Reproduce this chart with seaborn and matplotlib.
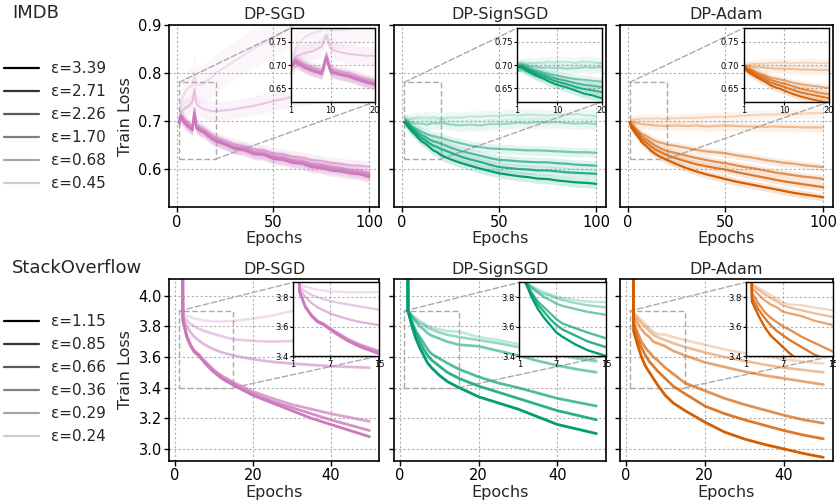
import numpy as np
import matplotlib
matplotlib.use("Agg")
import matplotlib.pyplot as plt
import seaborn as sns
from matplotlib.lines import Line2D
from matplotlib.patches import Rectangle, ConnectionPatch

# ---------------- data ----------------
optimizers = ['DP-SGD', 'DP-SignSGD', 'DP-Adam']

imdb_eps = ['3.39', '2.71', '2.26', '1.70', '0.68', '0.45']
so_eps = ['1.15', '0.85', '0.66', '0.36', '0.29', '0.24']

imdb_epochs = [1, 2, 3, 4, 5, 6, 7, 8, 9, 10, 12, 14, 16, 18, 20, 25, 30, 35, 40, 45,
               50, 55, 60, 65, 70, 75, 80, 85, 90, 95, 100]
so_epochs = [1, 2, 3, 4, 5, 6, 7, 8, 10, 12, 15, 20, 25, 30, 35, 40, 45, 50]

# IMDB train loss, one row per epsilon (3.39 ... 0.45)
imdb_sgd = [
    [0.695, 0.706, 0.700, 0.694, 0.690, 0.686, 0.684, 0.680, 0.714, 0.684, 0.679, 0.675, 0.668, 0.662, 0.657, 0.650,
     0.641, 0.638, 0.630, 0.629, 0.620, 0.618, 0.612, 0.610, 0.603, 0.601, 0.596, 0.594, 0.590, 0.588, 0.582],
    [0.697, 0.707, 0.702, 0.696, 0.692, 0.688, 0.685, 0.682, 0.716, 0.686, 0.680, 0.676, 0.670, 0.664, 0.659, 0.651,
     0.643, 0.640, 0.632, 0.630, 0.623, 0.620, 0.615, 0.612, 0.606, 0.604, 0.600, 0.597, 0.593, 0.591, 0.586],
    [0.698, 0.709, 0.704, 0.698, 0.694, 0.690, 0.687, 0.684, 0.719, 0.688, 0.682, 0.678, 0.672, 0.666, 0.661, 0.653,
     0.645, 0.642, 0.635, 0.633, 0.626, 0.624, 0.618, 0.616, 0.610, 0.608, 0.604, 0.601, 0.597, 0.595, 0.590],
    [0.700, 0.712, 0.708, 0.702, 0.698, 0.694, 0.691, 0.688, 0.726, 0.692, 0.686, 0.682, 0.676, 0.670, 0.665, 0.657,
     0.650, 0.646, 0.640, 0.638, 0.632, 0.630, 0.625, 0.623, 0.618, 0.616, 0.612, 0.610, 0.607, 0.606, 0.604],
    [0.700, 0.718, 0.722, 0.726, 0.728, 0.730, 0.735, 0.740, 0.765, 0.735, 0.728, 0.724, 0.722, 0.720, 0.720, 0.722,
     0.724, 0.728, 0.731, 0.736, 0.741, 0.745, 0.750, 0.752, 0.755, 0.757, 0.760, 0.762, 0.764, 0.765, 0.767],
    [0.700, 0.735, 0.750, 0.760, 0.765, 0.770, 0.772, 0.775, 0.800, 0.775, 0.775, 0.778, 0.785, 0.790, 0.800, 0.812,
     0.825, 0.838, 0.852, 0.862, 0.873, 0.886, 0.898, 0.910, 0.920, 0.930, 0.940, 0.948, 0.955, 0.960, 0.965],
]
imdb_signsgd = [
    [0.697, 0.694, 0.688, 0.683, 0.678, 0.674, 0.670, 0.665, 0.661, 0.657, 0.652, 0.645, 0.638, 0.634, 0.628, 0.619,
     0.612, 0.606, 0.600, 0.595, 0.590, 0.587, 0.584, 0.582, 0.579, 0.578, 0.575, 0.573, 0.571, 0.570, 0.568],
    [0.697, 0.696, 0.691, 0.687, 0.682, 0.678, 0.675, 0.671, 0.667, 0.664, 0.659, 0.653, 0.648, 0.645, 0.641, 0.633,
     0.625, 0.619, 0.614, 0.608, 0.603, 0.601, 0.599, 0.598, 0.596, 0.596, 0.594, 0.592, 0.591, 0.590, 0.589],
    [0.697, 0.697, 0.693, 0.689, 0.685, 0.682, 0.679, 0.676, 0.673, 0.670, 0.666, 0.661, 0.657, 0.655, 0.652, 0.644,
     0.637, 0.632, 0.627, 0.622, 0.618, 0.617, 0.615, 0.614, 0.613, 0.613, 0.611, 0.610, 0.608, 0.607, 0.606],
    [0.697, 0.699, 0.695, 0.692, 0.688, 0.686, 0.683, 0.681, 0.679, 0.677, 0.673, 0.670, 0.668, 0.666, 0.664, 0.658,
     0.653, 0.648, 0.645, 0.642, 0.641, 0.640, 0.639, 0.638, 0.638, 0.637, 0.636, 0.635, 0.634, 0.634, 0.633],
    [0.697, 0.700, 0.699, 0.697, 0.697, 0.695, 0.694, 0.695, 0.693, 0.694, 0.692, 0.693, 0.695, 0.694, 0.696, 0.692,
     0.690, 0.692, 0.690, 0.693, 0.693, 0.694, 0.696, 0.695, 0.697, 0.696, 0.697, 0.695, 0.694, 0.695, 0.693],
    [0.697, 0.704, 0.702, 0.705, 0.703, 0.706, 0.705, 0.708, 0.706, 0.706, 0.707, 0.705, 0.708, 0.706, 0.704, 0.707,
     0.706, 0.709, 0.708, 0.710, 0.710, 0.712, 0.711, 0.713, 0.712, 0.711, 0.713, 0.712, 0.714, 0.711, 0.710],
]
imdb_adam = [
    [0.697, 0.685, 0.679, 0.673, 0.668, 0.663, 0.656, 0.652, 0.649, 0.645, 0.637, 0.631, 0.626, 0.622, 0.618, 0.609,
     0.601, 0.594, 0.588, 0.583, 0.578, 0.573, 0.569, 0.565, 0.561, 0.557, 0.553, 0.549, 0.546, 0.543, 0.540],
    [0.697, 0.688, 0.683, 0.677, 0.672, 0.668, 0.662, 0.659, 0.656, 0.653, 0.646, 0.640, 0.636, 0.632, 0.628, 0.621,
     0.615, 0.609, 0.605, 0.601, 0.598, 0.593, 0.589, 0.585, 0.581, 0.577, 0.573, 0.570, 0.567, 0.564, 0.561],
    [0.697, 0.690, 0.686, 0.681, 0.677, 0.673, 0.668, 0.665, 0.662, 0.660, 0.654, 0.648, 0.644, 0.640, 0.637, 0.632,
     0.627, 0.622, 0.618, 0.614, 0.611, 0.607, 0.603, 0.600, 0.596, 0.592, 0.589, 0.586, 0.583, 0.581, 0.578],
    [0.697, 0.693, 0.689, 0.684, 0.680, 0.677, 0.673, 0.671, 0.669, 0.667, 0.662, 0.658, 0.655, 0.653, 0.650, 0.647,
     0.643, 0.639, 0.636, 0.634, 0.632, 0.628, 0.625, 0.622, 0.618, 0.615, 0.612, 0.610, 0.607, 0.605, 0.603],
    [0.697, 0.698, 0.696, 0.695, 0.695, 0.694, 0.693, 0.692, 0.692, 0.692, 0.691, 0.690, 0.690, 0.689, 0.689, 0.690,
     0.689, 0.690, 0.688, 0.689, 0.690, 0.689, 0.688, 0.688, 0.687, 0.688, 0.687, 0.687, 0.686, 0.686, 0.686],
    [0.697, 0.700, 0.702, 0.703, 0.703, 0.704, 0.705, 0.704, 0.705, 0.705, 0.704, 0.705, 0.705, 0.704, 0.704, 0.705,
     0.706, 0.706, 0.707, 0.708, 0.708, 0.709, 0.711, 0.712, 0.713, 0.713, 0.714, 0.714, 0.715, 0.716, 0.716],
]
imdb_sgd_std = [0.012, 0.012, 0.012, 0.012, 0.02, 0.04]
imdb_signsgd_std = [0.01, 0.01, 0.01, 0.01, 0.012, 0.012]
imdb_adam_std = [0.008, 0.008, 0.008, 0.008, 0.01, 0.01]

# StackOverflow train loss, one row per epsilon (1.15 ... 0.24)
so_sgd = [
    [9.5, 3.84, 3.73, 3.67, 3.63, 3.61, 3.58, 3.55, 3.50, 3.46, 3.415, 3.35, 3.30, 3.25, 3.20, 3.16, 3.12, 3.08],
    [9.5, 3.84, 3.735, 3.675, 3.635, 3.615, 3.585, 3.557, 3.505, 3.467, 3.423, 3.36, 3.31, 3.27, 3.23, 3.19, 3.155, 3.12],
    [9.5, 3.845, 3.74, 3.68, 3.64, 3.62, 3.592, 3.565, 3.515, 3.478, 3.435, 3.375, 3.33, 3.29, 3.26, 3.23, 3.205, 3.18],
    [9.5, 3.86, 3.80, 3.76, 3.73, 3.71, 3.69, 3.675, 3.65, 3.63, 3.61, 3.585, 3.568, 3.557, 3.548, 3.54, 3.535, 3.53],
    [9.5, 3.87, 3.84, 3.815, 3.80, 3.785, 3.775, 3.765, 3.75, 3.735, 3.715, 3.705, 3.70, 3.705, 3.715, 3.73, 3.745, 3.76],
    [9.5, 3.89, 3.87, 3.86, 3.85, 3.845, 3.84, 3.837, 3.833, 3.832, 3.835, 3.85, 3.87, 3.90, 3.93, 3.96, 3.99, 4.02],
]
so_signsgd = [
    [9.5, 3.90, 3.80, 3.72, 3.66, 3.61, 3.56, 3.53, 3.48, 3.44, 3.40, 3.34, 3.30, 3.26, 3.21, 3.16, 3.13, 3.10],
    [9.5, 3.90, 3.82, 3.75, 3.70, 3.65, 3.61, 3.58, 3.54, 3.50, 3.46, 3.41, 3.37, 3.33, 3.29, 3.25, 3.22, 3.19],
    [9.5, 3.90, 3.83, 3.77, 3.73, 3.69, 3.65, 3.62, 3.59, 3.56, 3.52, 3.47, 3.43, 3.40, 3.365, 3.33, 3.305, 3.28],
    [9.5, 3.90, 3.86, 3.83, 3.80, 3.78, 3.755, 3.74, 3.72, 3.70, 3.68, 3.67, 3.64, 3.61, 3.575, 3.545, 3.52, 3.50],
    [9.5, 3.90, 3.87, 3.84, 3.82, 3.81, 3.79, 3.78, 3.76, 3.745, 3.73, 3.71, 3.69, 3.665, 3.64, 3.615, 3.59, 3.57],
    [9.5, 3.90, 3.875, 3.855, 3.835, 3.82, 3.805, 3.795, 3.78, 3.77, 3.765, 3.73, 3.71, 3.685, 3.655, 3.625, 3.60, 3.58],
]
so_adam = [
    [9.5, 3.77, 3.68, 3.60, 3.54, 3.50, 3.46, 3.42, 3.35, 3.30, 3.25, 3.175, 3.11, 3.065, 3.03, 3.00, 2.97, 2.945],
    [9.5, 3.80, 3.72, 3.66, 3.61, 3.57, 3.54, 3.51, 3.46, 3.41, 3.36, 3.28, 3.23, 3.19, 3.155, 3.12, 3.09, 3.066],
    [9.5, 3.83, 3.76, 3.70, 3.66, 3.63, 3.60, 3.58, 3.53, 3.49, 3.43, 3.38, 3.33, 3.29, 3.255, 3.22, 3.19, 3.168],
    [9.5, 3.86, 3.82, 3.78, 3.75, 3.73, 3.70, 3.69, 3.67, 3.64, 3.61, 3.565, 3.535, 3.505, 3.48, 3.46, 3.44, 3.42],
    [9.5, 3.88, 3.85, 3.82, 3.795, 3.77, 3.745, 3.73, 3.71, 3.69, 3.665, 3.63, 3.60, 3.575, 3.55, 3.53, 3.515, 3.50],
    [9.5, 3.89, 3.865, 3.84, 3.815, 3.79, 3.765, 3.75, 3.745, 3.73, 3.71, 3.68, 3.65, 3.625, 3.605, 3.585, 3.57, 3.557],
]
so_std = [0.006, 0.006, 0.006, 0.006, 0.006, 0.006]

line_alpha = [1.0, 0.8, 0.65, 0.5, 0.35, 0.2]

# ---------------- style ----------------
sns.set_theme(style="ticks")
plt.rcParams['font.family'] = ['DejaVu Sans']
plt.rcParams['axes.edgecolor'] = 'black'
plt.rcParams['axes.linewidth'] = 1.2
plt.rcParams['xtick.color'] = 'black'
plt.rcParams['ytick.color'] = 'black'

pal = sns.color_palette("colorblind")
opt_colors = [pal[4], pal[2], pal[3]]
grid_kw = dict(color='#b0b0b0', linestyle=(0, (2, 2)), linewidth=0.8)
box_kw = dict(color='#aaaaaa', linestyle=(0, (4, 2)), linewidth=1.0)


def draw_series(ax, epochs, series, stds, color, lw):
    # lightest first so the strongest privacy budget ends up on top
    for vals, a, s in list(zip(series, line_alpha, stds))[::-1]:
        vals = np.array(vals)
        ax.fill_between(epochs, vals - s, vals + s, color=color, alpha=0.04 + 0.13 * a, lw=0)
        sns.lineplot(x=epochs, y=vals, ax=ax, color=color, alpha=a, lw=lw)


def add_zoom(ax, epochs, series, stds, color, lw, bounds, xlim, ylim, xticks, yticks, yfmt):
    axin = ax.inset_axes(bounds)
    draw_series(axin, epochs, series, stds, color, lw)
    axin.set_xlim(*xlim)
    axin.set_ylim(*ylim)
    axin.set_xticks(xticks)
    axin.set_yticks(yticks)
    axin.set_yticklabels([yfmt.format(v) for v in yticks])
    axin.tick_params(labelsize=6, length=2, width=0.8, pad=1)
    axin.grid(True, **grid_kw)
    axin.set_xlabel('')
    axin.set_ylabel('')
    for sp in axin.spines.values():
        sp.set_linewidth(1.0)
    ax.add_patch(Rectangle((xlim[0], ylim[0]), xlim[1] - xlim[0], ylim[1] - ylim[0],
                           fill=False, zorder=1.5, **box_kw))
    for pa, pb in [((xlim[0], ylim[1]), (0, 1)), ((xlim[1], ylim[0]), (1, 0))]:
        con = ConnectionPatch(xyA=pa, coordsA=ax.transData, xyB=pb, coordsB=axin.transAxes,
                              zorder=1.5, **box_kw)
        ax.add_artist(con)


fig = plt.figure(figsize=(8.37, 5.0), dpi=100)

lefts = [0.2025, 0.4713, 0.7407]
widths = [0.2503, 0.2527, 0.2545]

rows = [
    dict(name='IMDB', eps=imdb_eps, epochs=imdb_epochs, data=[imdb_sgd, imdb_signsgd, imdb_adam],
         stds=[imdb_sgd_std, imdb_signsgd_std, imdb_adam_std], bottom=0.5854, height=0.3646,
         ylim=(0.519, 0.9), yticks=[0.6, 0.7, 0.8, 0.9], xticks=[0, 50, 100], lw=1.6,
         inset=[0.58, 0.578, 0.40, 0.405], zx=(1, 20), zy=(0.62, 0.78), zxt=[1, 10, 20],
         zyt=[0.65, 0.70, 0.75], zfmt='{:.2f}', title_y=1 - 13 / 500, leg_y=1 - 61 / 500),
    dict(name='StackOverflow', eps=so_eps, epochs=so_epochs, data=[so_sgd, so_signsgd, so_adam],
         stds=[so_std, so_std, so_std], bottom=0.0786, height=0.3628,
         ylim=(2.923, 4.107), yticks=[3.0, 3.2, 3.4, 3.6, 3.8, 4.0], xticks=[0, 20, 40], lw=2.0,
         inset=[0.59, 0.577, 0.41, 0.406], zx=(1, 15), zy=(3.4, 3.9), zxt=[1, 7, 15],
         zyt=[3.4, 3.6, 3.8], zfmt='{:.1f}', title_y=1 - 268 / 500, leg_y=1 - 314 / 500),
]

for row in rows:
    for j, opt in enumerate(optimizers):
        ax = fig.add_axes([lefts[j], row['bottom'], widths[j], row['height']])
        draw_series(ax, row['epochs'], row['data'][j], row['stds'][j], opt_colors[j], row['lw'])
        ax.set_xlim(row['epochs'][0] - 0.05 * (row['epochs'][-1] - row['epochs'][0]),
                    row['epochs'][-1] + 0.05 * (row['epochs'][-1] - row['epochs'][0]))
        ax.set_ylim(*row['ylim'])
        ax.set_xticks(row['xticks'])
        ax.set_yticks(row['yticks'])
        ax.grid(True, **grid_kw)
        ax.tick_params(labelsize=10.5, length=3.5, width=1.0, pad=2)
        ax.set_title(opt, fontsize=11.5, pad=4)
        ax.set_xlabel('Epochs', fontsize=11.5, labelpad=1)
        if j == 0:
            ax.set_ylabel('Train Loss', fontsize=11.5, labelpad=4)
        else:
            ax.set_ylabel('')
            ax.tick_params(labelleft=False)
        add_zoom(ax, row['epochs'], row['data'][j], row['stds'][j], opt_colors[j], row['lw'] * 0.85,
                 row['inset'], row['zx'], row['zy'], row['zxt'], row['zyt'], row['zfmt'])

    fig.text(12 / 837, row['title_y'], row['name'], fontsize=13, va='center', ha='left')
    handles = [Line2D([], [], color='black', alpha=a, lw=1.6) for a in line_alpha]
    labels = ['ε=' + e for e in row['eps']]
    fig.legend(handles, labels, loc='upper left', bbox_to_anchor=(4 / 837, row['leg_y']),
               frameon=False, fontsize=11, handlelength=2.3, handletextpad=0.75,
               labelspacing=0.53, borderaxespad=0, borderpad=0)

fig.savefig('out.png', dpi=100)
